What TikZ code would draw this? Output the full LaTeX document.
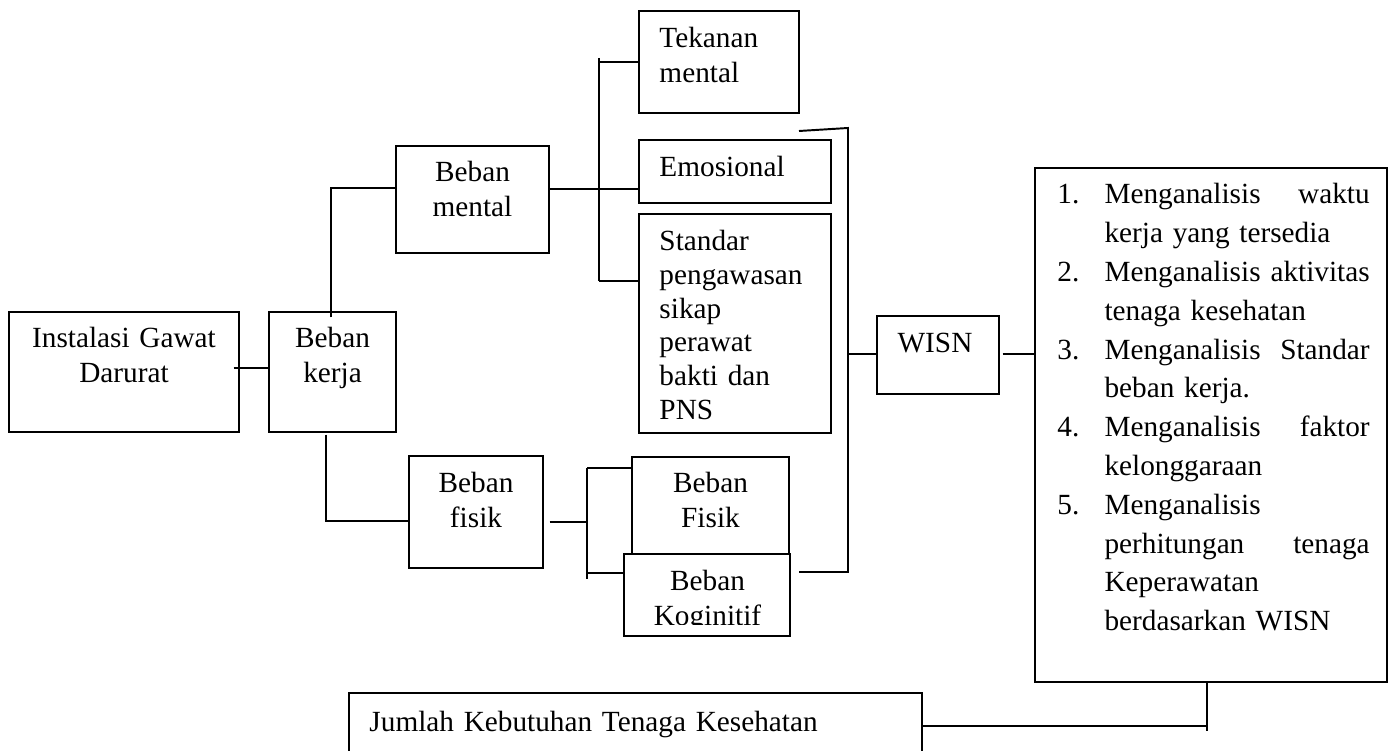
\documentclass[tikz,border=0pt]{standalone}
\usepackage{fontspec}
\setmainfont{Liberation Serif}
\usetikzlibrary{calc}

\tikzset{
  box/.style={draw,line width=0.6pt,fill=white,inner sep=0pt},
  txt/.style={font=\fontsize{12}{14}\selectfont,inner sep=0pt,anchor=base,align=center,text width=90pt},
  txtl/.style={txt,anchor=base west,align=left},
  conn/.style={line width=0.8pt}
}

\begin{document}
\begin{tikzpicture}[x=0.41pt,y=-0.41pt]
\path[use as bounding box] (0,0) rectangle (1396,751);
\clip (0,0) rectangle (1396,751);
% kotak
\node[box,minimum width=94.3pt,minimum height=49.2pt] (ins) at (124,372) {};
\node[box,minimum width=52.1pt,minimum height=49.2pt] (kerja) at (332.5,372) {};
\node[box,minimum width=62.7pt,minimum height=43.9pt] (mental) at (472.5,199.5) {};
\node[box,minimum width=65.6pt,minimum height=41.8pt] (tekanan) at (719,62) {};
\node[box,minimum width=78.7pt,minimum height=25.8pt] (emosi) at (735,171.5) {};
\node[box,minimum width=78.7pt,minimum height=89.8pt] (standar) at (735,323.5) {};
\node[box,minimum width=54.9pt,minimum height=45.9pt] (fisik) at (476,512) {};
\node[box,minimum width=64.4pt,minimum height=44.3pt] (bfisik) at (710.5,511) {};
\node[box,minimum width=68.1pt,minimum height=33.6pt] (kogni) at (707,595) {};
\node[box,minimum width=50.0pt,minimum height=32.0pt] (wisn) at (938,355) {};
\node[box,minimum width=144.3pt,minimum height=210.7pt] (list) at (1211,425) {};
\node[box,minimum width=234.9pt,minimum height=43.9pt] (jumlah) at (635.5,746.5) {};
% teks
\node[txt] (ins-t) at (124,348) {Instalasi Gawat\\Darurat};
\node[txt] (kerja-t) at (332.5,348) {Beban\\kerja};
\node[txt] (mental-t) at (472.5,182) {Beban\\mental};
\node[txtl] (tekanan-t) at (659,48) {Tekanan\\mental};
\node[txtl] (emosi-t) at (659,177) {Emosional};
\node[txtl,font=\fontsize{12}{13.8}\selectfont] (standar-t) at (659,251) {Standar\\pengawasan\\sikap\\perawat\\bakti dan\\PNS};
\node[txt] (fisik-t) at (476,493) {Beban\\fisik};
\node[txt] (bfisik-t) at (710.5,493) {Beban\\Fisik};
\begin{scope}
\clip (600,540) rectangle (800,625);
\node[txt] (kogni-t) at (707.5,591) {Beban\\Koginitif};
\end{scope}
\node[txt] (wisn-t) at (935,353) {WISN};
\node[txtl,font=\fontsize{12}{15.9}\selectfont,text width=128pt] (list-t) at (1057,204) {%
\makebox[19.3pt][l]{1.}Menganalisis\hfill waktu\\
\hspace*{19.3pt}kerja yang tersedia\\
\makebox[19.3pt][l]{2.}Menganalisis\hfill aktivitas\\
\hspace*{19.3pt}tenaga kesehatan\\
\makebox[19.3pt][l]{3.}Menganalisis\hfill Standar\\
\hspace*{19.3pt}beban kerja.\\
\makebox[19.3pt][l]{4.}Menganalisis\hfill faktor\\
\hspace*{19.3pt}kelonggaraan\\
\makebox[19.3pt][l]{5.}Menganalisis\\
\hspace*{19.3pt}perhitungan\hfill tenaga\\
\hspace*{19.3pt}Keperawatan\\
\hspace*{19.3pt}berdasarkan WISN};
\node[txtl,text width=220pt] (jumlah-t) at (369,731) {Jumlah Kebutuhan Tenaga Kesehatan};
% garis
\coordinate (mj) at (599,189);
\coordinate (mtop) at (599,58);
\coordinate (mbot) at (599,281);
\coordinate (fj) at (587,522);
\coordinate (ftop) at (587,468);
\coordinate (fbot) at (587,579);
\coordinate (fk) at (587,573);
\coordinate (wtop0) at (799,131);
\coordinate (wtop) at (848,128);
\coordinate (wbot) at (848,572);
\coordinate (wbot0) at (799,572);
\coordinate (wj) at (848,354);
\coordinate (lj) at (1207,726);
\draw[conn] ($(ins.east)+(-6,-4)$) -- ($(kerja.west)+(0,-4)$);
\draw[conn] ($(kerja.north)+(-1.5,6)$) |- ($(mental.west)+(0,-11.5)$);
\draw[conn] ($(kerja.south)+(-6.5,2)$) |- ($(fisik.west)+(0,9)$);
\draw[conn] ($(mental.east)+(0,-10.5)$) -- (mj);
\draw[conn] (mtop) -- (mbot);
\draw[conn] (mtop |- tekanan.west) -- (tekanan.west);
\draw[conn] (mj) -- (mj -| emosi.west);
\draw[conn] (mbot) -- (mbot -| standar.west);
\draw[conn] ($(fisik.east)+(6,10)$) -- (fj);
\draw[conn] (ftop) -- (fbot);
\draw[conn] (ftop) -- (ftop -| bfisik.west);
\draw[conn] (fk) -- (fk -| kogni.west);
\draw[conn] (wtop0) -- (wtop) -- (wbot) -- (wbot0);
\draw[conn] (wj) -- (wj -| wisn.west);
\draw[conn] ($(wisn.east)+(3,-1)$) -- ($(wisn.east -| list.west)+(0,-1)$);
\draw[conn] (list.south -| lj) -- ($(lj)+(0,5)$);
\draw[conn] (lj -| jumlah.east) -- (lj);
\end{tikzpicture}
\end{document}
